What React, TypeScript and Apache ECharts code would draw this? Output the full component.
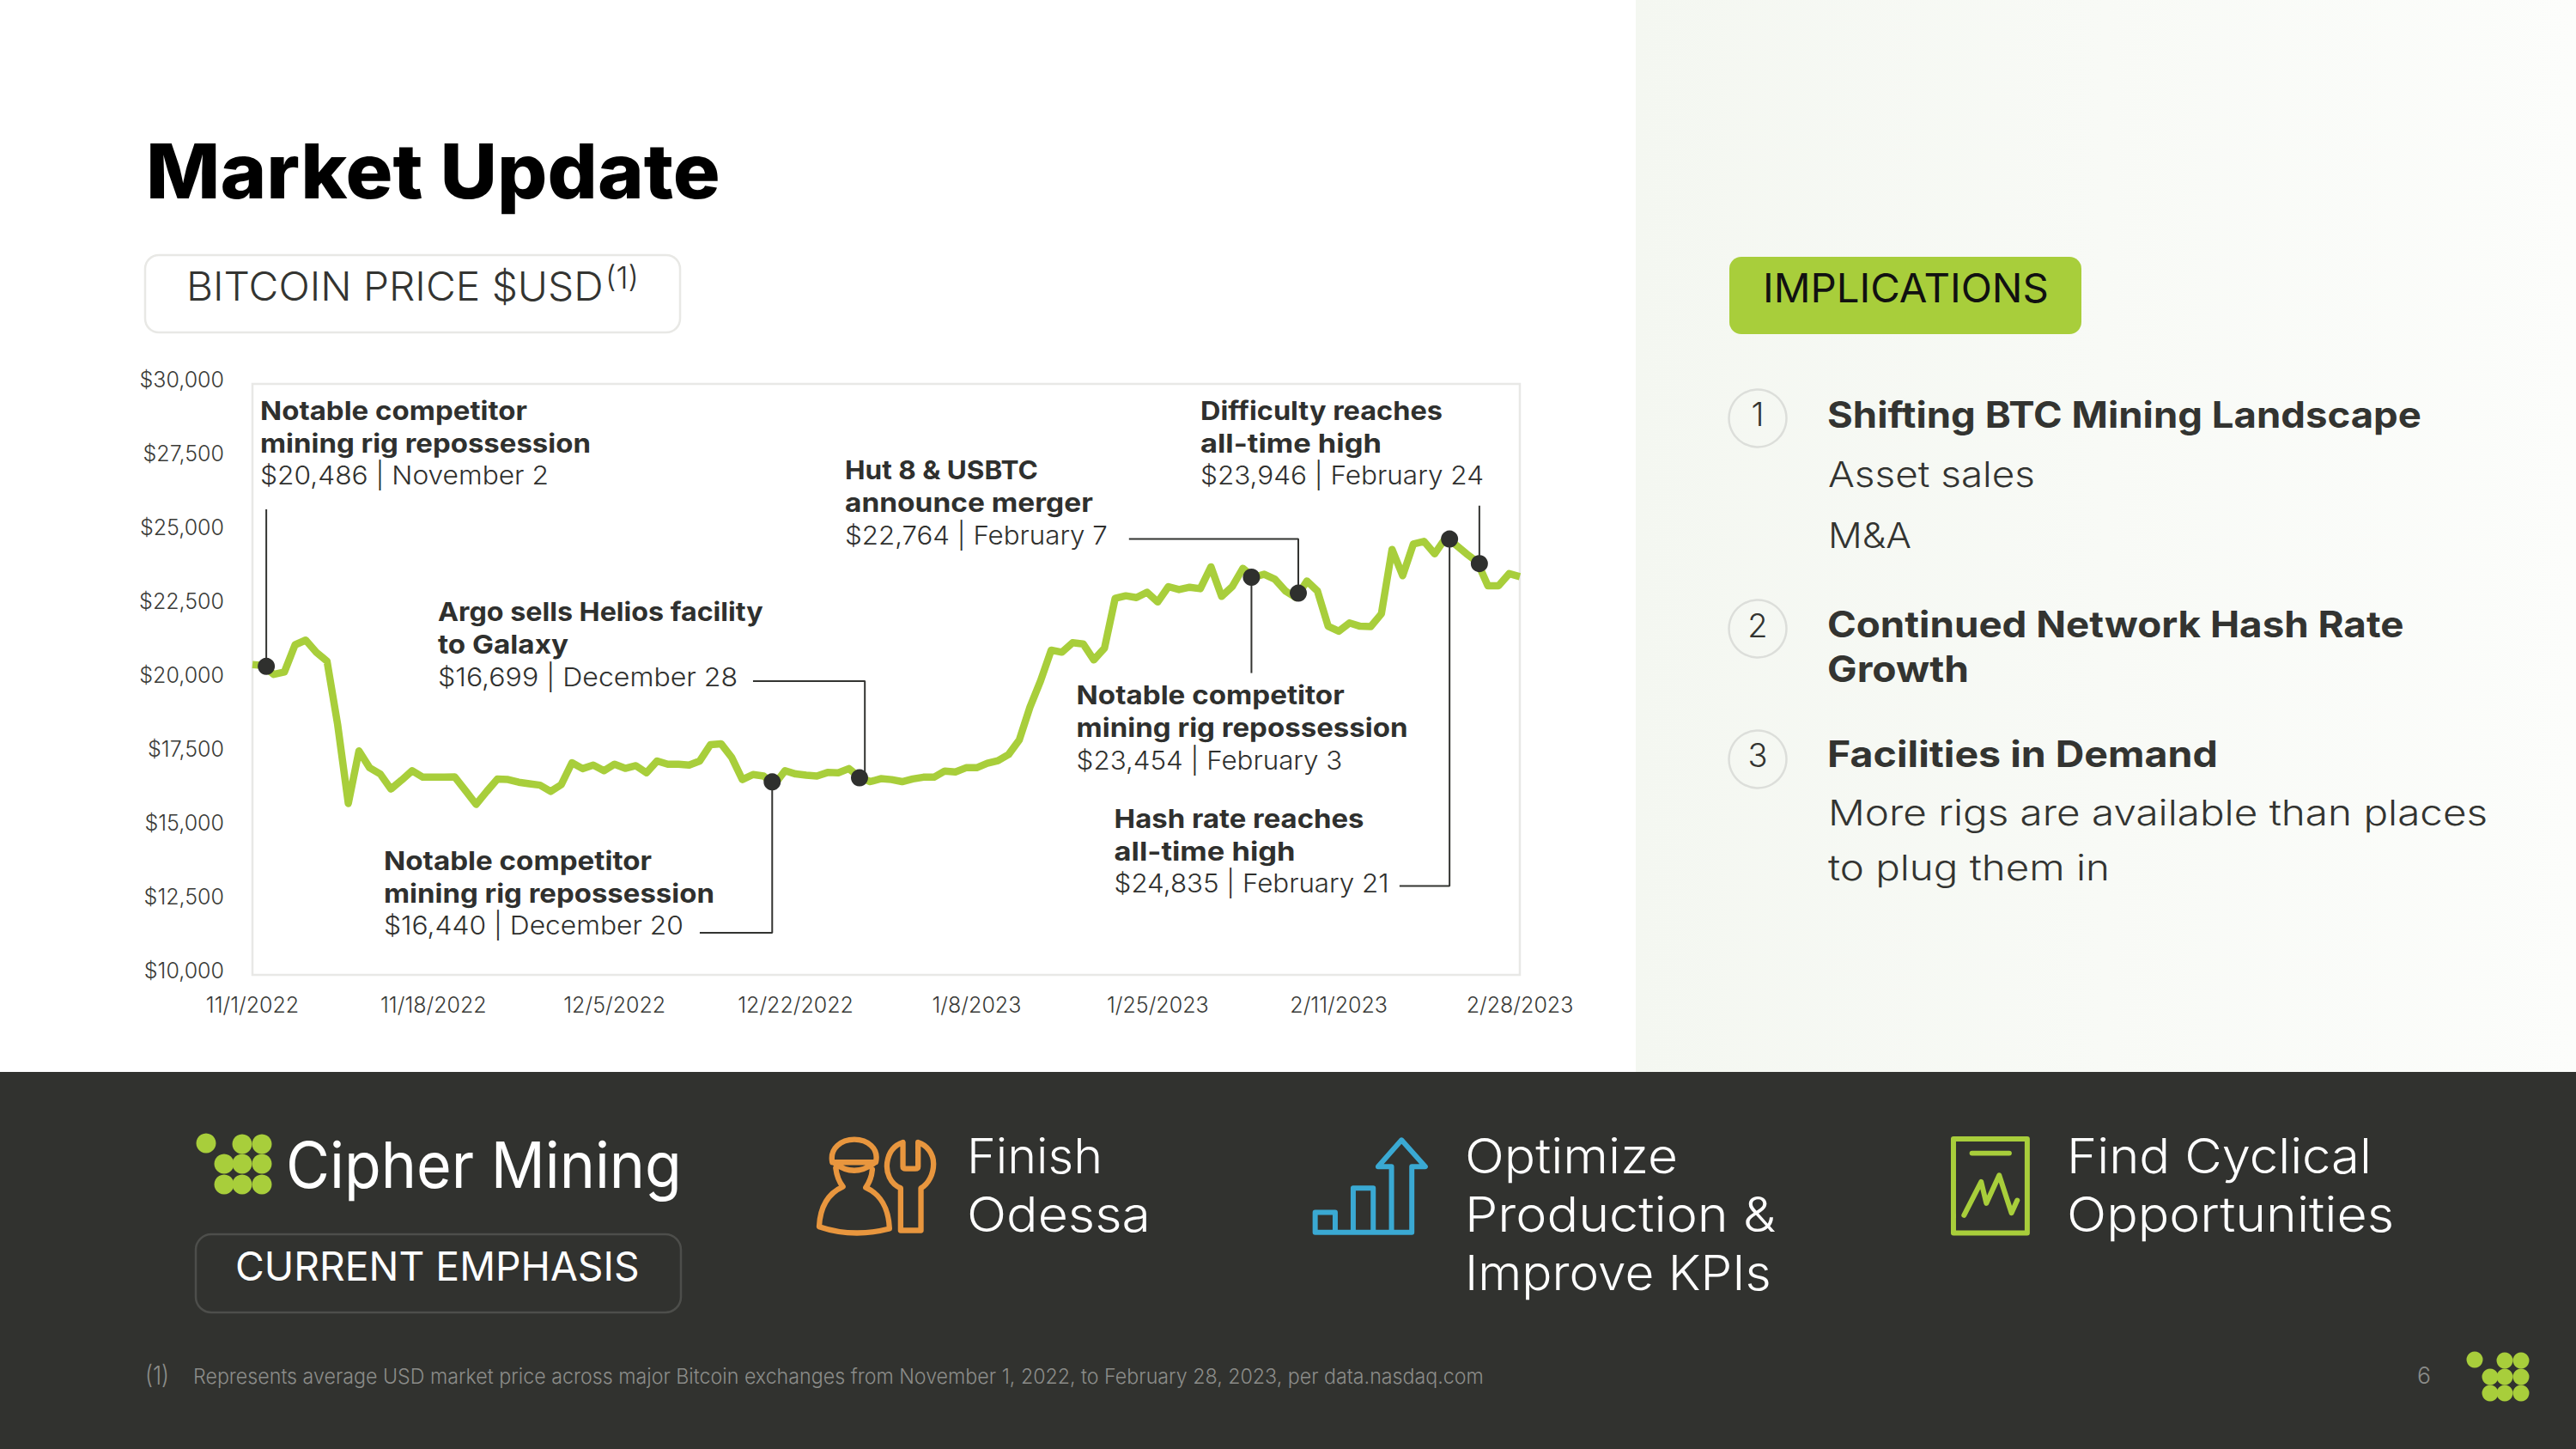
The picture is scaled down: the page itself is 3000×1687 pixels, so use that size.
import React, { useEffect, useRef } from "react";
import * as echarts from "echarts";

const FONT = "Inter";
const INK = "#2f302e";
const GREEN = "#a8ce3b";
const GREY = "#8b8c89";

const xTickLabels = ["11/1/2022", "11/18/2022", "12/5/2022", "12/22/2022", "1/8/2023", "1/25/2023", "2/11/2023", "2/28/2023"];

const btcPrices = [
  20500, 20470, 20170, 20250, 21170, 21330, 20915, 20620, 18470, 15800,
  17580, 17010, 16800, 16290, 16590, 16910, 16690, 16690, 16690, 16700,
  16240, 15770, 16210, 16630, 16610, 16520, 16470, 16420, 16210, 16440,
  17180, 16980, 17100, 16910, 17130, 16990, 17080, 16840, 17240, 17130,
  17130, 17100, 17240, 17790, 17820, 17360, 16610, 16780, 16730, 16440,
  16910, 16800, 16760, 16730, 16850, 16840, 16980, 16690, 16540, 16640,
  16610, 16540, 16630, 16690, 16690, 16900, 16870, 17010, 17010, 17160,
  17250, 17460, 17950, 19060, 19950, 20990, 20920, 21240, 21200, 20660,
  21060, 22740, 22830, 22770, 22950, 22620, 23140, 23040, 23120, 23070,
  23810, 22810, 23140, 23760, 23454, 23560, 23390, 22990, 22764, 23330,
  22990, 21800, 21630, 21910, 21800, 21790, 22220, 24400, 23510, 24580,
  24670, 24250, 24770, 24550, 24250, 23980, 23170, 23170, 23580, 23480,
];

// event dots: [day index, price]
const eventDots = [
  [1.3, 20440], [48.8, 16530], [57, 16670], [93.8, 23460], [98.2, 22920], [112.4, 24750], [115.2, 23920],
];

// leader lines in chart coordinates
const leaderLines = [
  [[1.3, 20440], [1.3, 25756]],
  [[48.8, 16530], [48.8, 11424], [42.0, 11424]],
  [[57.5, 16670], [57.5, 19942], [47.0, 19942]],
  [[93.8, 23460], [93.8, 20215]],
  [[98.2, 22920], [98.2, 24750], [82.3, 24750]],
  [[112.4, 24750], [112.4, 13006], [107.7, 13006]],
  [[115.2, 23920], [115.2, 25880]],
];

// [text, x, baseline, target width, size, weight, colour]
type Row = [string, number, number, number, number, number, string];
const annotationTexts: Row[] = [
  ["Notable competitor", 303, 489, 311, 30, 700, INK],
  ["mining rig repossession", 303, 526.5, 385, 30, 700, INK],
  ["$20,486 | November 2", 303, 564, 336, 30, 300, INK],
  ["Argo sells Helios facility", 510, 723, 379, 30, 700, INK],
  ["to Galaxy", 510, 761, 152, 30, 700, INK],
  ["$16,699 | December 28", 510, 798.5, 349, 30, 300, INK],
  ["Notable competitor", 447, 1013, 312, 30, 700, INK],
  ["mining rig repossession", 447, 1051, 385, 30, 700, INK],
  ["$16,440 | December 20", 447, 1088, 349, 30, 300, INK],
  ["Hut 8 & USBTC", 984, 558, 225, 30, 700, INK],
  ["announce merger", 984, 596, 289, 30, 700, INK],
  ["$22,764 | February 7", 984, 633.7, 306, 30, 300, INK],
  ["Difficulty reaches", 1398, 489, 282, 30, 700, INK],
  ["all-time high", 1398, 527, 211, 30, 700, INK],
  ["$23,946 | February 24", 1398, 564, 330, 30, 300, INK],
  ["Notable competitor", 1253.6, 820, 312, 30, 700, INK],
  ["mining rig repossession", 1253.6, 858, 386, 30, 700, INK],
  ["$23,454 | February 3", 1253.6, 896, 310, 30, 300, INK],
  ["Hash rate reaches", 1297.6, 964, 291, 30, 700, INK],
  ["all-time high", 1297.6, 1002, 211, 30, 700, INK],
  ["$24,835 | February 21", 1297.6, 1039, 320, 30, 300, INK],
];

const pageTexts: Row[] = [
  ["Market Update", 170, 231, 669, 88, 800, "#000000"],
  ["BITCOIN PRICE $USD", 217, 350, 486, 47, 300, "#333431"],
  ["(1)", 705, 336, 39, 35, 300, "#333431"],
  ["IMPLICATIONS", 2053, 352, 333, 47, 400, "#111111"],
  ["Shifting BTC Mining Landscape", 2128, 498.5, 692, 42, 700, "#333431"],
  ["Asset sales", 2129, 567, 241, 41, 300, "#333431"],
  ["M&A", 2129, 638, 97, 41, 300, "#333431"],
  ["Continued Network Hash Rate", 2128, 742, 672, 42, 700, "#333431"],
  ["Growth", 2128, 794.5, 165, 42, 700, "#333431"],
  ["Facilities in Demand", 2128, 893.5, 455, 42, 700, "#333431"],
  ["More rigs are available than places", 2129, 961, 768, 41, 300, "#333431"],
  ["to plug them in", 2129, 1025, 328, 41, 300, "#333431"],
  ["Cipher Mining", 333, 1383, 461, 74, 400, "#ffffff"],
  ["CURRENT EMPHASIS", 274, 1491, 471, 47, 400, "#ffffff"],
  ["Finish", 1126, 1366, 158, 56, 300, "#ffffff"],
  ["Odessa", 1126, 1434, 214, 56, 300, "#ffffff"],
  ["Optimize", 1706, 1366, 248, 56, 300, "#ffffff"],
  ["Production &", 1706, 1434, 362, 56, 300, "#ffffff"],
  ["Improve KPIs", 1706, 1502, 357, 56, 300, "#ffffff"],
  ["Find Cyclical", 2407, 1366, 355, 56, 300, "#ffffff"],
  ["Opportunities", 2407, 1434, 381, 56, 300, "#ffffff"],
  ["(1)", 169, 1612, 28, 30, 300, GREY],
  ["Represents average USD market price across major Bitcoin exchanges from November 1, 2022, to February 28, 2023, per data.nasdaq.com", 225, 1611, 1503, 24, 300, GREY],
  ["6", 2815, 1611, 16, 27, 300, GREY],
];

const numberBadges = [
  ["1", 487, 482],
  ["2", 732, 728],
  ["3", 884, 879],
];

const logoLarge = [
  [240, 1331], [282, 1332], [305, 1332], [261, 1355], [282, 1355], [305, 1355], [261, 1379], [282, 1379], [305, 1379],
];
const logoSmall = [
  [2882, 1583], [2917, 1584], [2936, 1584], [2900, 1603], [2917, 1603], [2936, 1603], [2900, 1622], [2917, 1622], [2936, 1622],
];

const ORANGE_D =
  "M118 160 C108 110 150 80 195 80 C240 80 282 110 270 160 Z M125 162 Q195 215 265 162 " +
  "M130 180 Q135 220 155 245 C100 270 75 320 72 385 Q190 425 318 392 C315 320 285 270 235 248 Q255 220 258 185 " +
  "M357 398 L357 250 C320 235 305 195 310 160 C315 125 335 100 365 90 L365 175 Q365 182 375 182 L408 182 Q418 182 418 175 L418 90 C450 100 472 130 472 165 C472 200 455 235 428 250 L428 398 Z";
const BLUE_D =
  "M65 405 L65 335 L135 335 L135 405 M198 405 L198 250 L268 250 L268 405 M65 405 L400 405 " +
  "M332 405 L332 175 L285 175 L367 82 L450 175 L403 175 L403 405";
const GREEN_D =
  "M75 78 L333 78 L333 407 L75 407 Z M140 128 L270 128 M112 345 L172 228 L190 303 L235 205 L278 337 L298 293";

echarts.graphic.registerShape("iconOrange", echarts.graphic.extendPath(ORANGE_D, {}));
echarts.graphic.registerShape("iconBlue", echarts.graphic.extendPath(BLUE_D, {}));
echarts.graphic.registerShape("iconGreen", echarts.graphic.extendPath(GREEN_D, {}));

const ctx = document.createElement("canvas").getContext("2d") as CanvasRenderingContext2D;

function textEl(r: Row): any {
  const [text, x, baseline, width, size, weight, fill] = r;
  const font = `${weight} ${size}px ${FONT}`;
  ctx.font = font;
  const measured = ctx.measureText(text).width || width;
  return {
    type: "text",
    x,
    y: baseline - 0.3635 * size,
    scaleX: width / measured,
    z: 20,
    style: { text, fill, font, align: "left", verticalAlign: "middle", textAlign: "left", textVerticalAlign: "middle" },
  };
}

function dot(c: number[], r: number, fill: string): any {
  return { type: "circle", z: 20, shape: { cx: c[0], cy: c[1], r }, style: { fill } };
}

function icon(type: string, x: number, color: string, lw: number): any {
  return {
    type, x, y: 1300, scaleX: 1 / 3, scaleY: 1 / 3, z: 20,
    style: { fill: "none", stroke: color, lineWidth: lw, lineJoin: "round", lineCap: "round" },
  };
}

function box(x: number, y: number, w: number, h: number, r: number, style: any, z = 5): any {
  return { type: "rect", z, shape: { x, y, width: w, height: h, r }, style };
}

export default function App() {
  const ref = useRef<HTMLDivElement>(null);
  useEffect(() => {
    document.body.style.margin = "0";
    const chart = echarts.init(ref.current as HTMLDivElement, undefined, { renderer: "svg" });
    const graphic: any[] = [
      box(0, 0, 3000, 1687, 0, { fill: "#ffffff" }, -10),
      {
        type: "rect", z: -9, shape: { x: 1905, y: 0, width: 1095, height: 1249 },
        style: {
          fill: new echarts.graphic.LinearGradient(0, 0, 1, 0, [
            { offset: 0, color: "#f4f7f1" },
            { offset: 1, color: "#fcfdfb" },
          ]),
        },
      },
      box(0, 1248, 3000, 439, 0, { fill: "#31322f" }, -9),
      box(169, 297, 623, 90, 16, { fill: "#ffffff", stroke: "#e8e8e5", lineWidth: 2.5 }),
      box(2014, 299, 410, 90, 14, { fill: GREEN }),
      box(228, 1437, 565, 91, 18, { fill: "none", stroke: "#4d4e4b", lineWidth: 2.5 }),
      ...numberBadges.map((b) => ({
        type: "circle", z: 5, shape: { cx: 2047, cy: b[1] as number, r: 33.5 },
        style: { fill: "none", stroke: "#dcdeda", lineWidth: 2.5 },
      })),
      ...numberBadges.map((b) => ({
        type: "text", z: 20, x: 2047, y: b[2] as number,
        style: { text: b[0], fill: "#333431", font: `300 38px ${FONT}`, align: "center", verticalAlign: "middle", textAlign: "center", textVerticalAlign: "middle" },
      })),
      ...logoLarge.map((c) => dot(c, 11.5, GREEN)),
      ...logoSmall.map((c) => dot(c, 9.5, GREEN)),
      icon("iconOrange", 930, "#e8963e", 19),
      icon("iconBlue", 1510, "#3aa9d3", 18),
      icon("iconGreen", 2250, GREEN, 18),
      ...pageTexts.map(textEl),
      ...annotationTexts.map(textEl),
    ];

    chart.setOption({
      animation: false,
      graphic,
      grid: {
        left: 294, top: 447, width: 1476, height: 688, show: true,
        borderColor: "#e8e8e6", borderWidth: 2.5, backgroundColor: "transparent",
      },
      xAxis: {
        type: "value", min: 0, max: 119, interval: 17,
        axisLine: { show: false }, axisTick: { show: false }, splitLine: { show: false },
        axisLabel: {
          fontFamily: FONT, fontSize: 25, fontWeight: 300, color: "#3a3b38", margin: 22,
          showMinLabel: true, showMaxLabel: true, hideOverlap: false,
          formatter: (v: number) => xTickLabels[Math.round(v / 17)],
        },
      },
      yAxis: {
        type: "value", min: 10000, max: 30000, interval: 2500,
        axisLine: { show: false }, axisTick: { show: false }, splitLine: { show: false },
        axisLabel: {
          fontFamily: FONT, fontSize: 25, fontWeight: 300, color: "#3a3b38", margin: 33,
          verticalAlign: "bottom", lineHeight: 10,
          formatter: (v: number) => "$" + v.toLocaleString("en-US"),
        },
      },
      series: [
        {
          type: "line", name: "Bitcoin price", data: btcPrices.map((v, i) => [i, v]),
          symbol: "none", z: 3, lineStyle: { color: GREEN, width: 8.5, join: "round" },
        },
        ...leaderLines.map((l) => ({
          type: "line", data: l, symbol: "none", z: 4, clip: false, lineStyle: { color: "#333431", width: 2 },
        })),
        {
          type: "scatter", name: "Events", data: eventDots, symbol: "circle", symbolSize: 20, z: 5,
          itemStyle: { color: "#2f302e", opacity: 1 },
        },
      ],
    });
    return () => chart.dispose();
  }, []);
  return <div ref={ref} style={{ position: "absolute", left: 0, top: 0, width: 3000, height: 1687 }} />;
}
